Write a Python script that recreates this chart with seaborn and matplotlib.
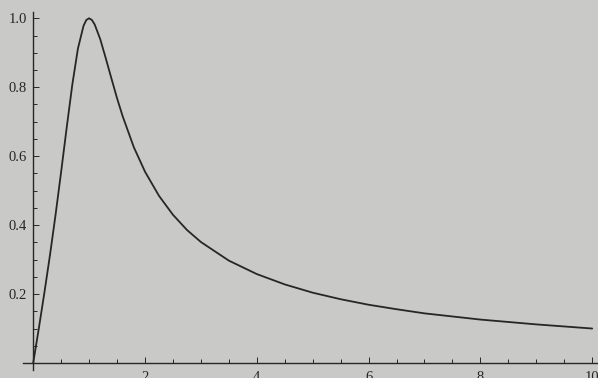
import matplotlib
matplotlib.use("Agg")
import matplotlib.pyplot as plt
import numpy as np
import pandas as pd
import seaborn as sns

# curve (x, value)
x_vals = [0.0, 0.1, 0.2, 0.3, 0.4, 0.5, 0.6, 0.7, 0.8, 0.9, 0.95, 1.0,
          1.05, 1.1, 1.2, 1.3, 1.4, 1.5, 1.6, 1.8, 2.0, 2.25, 2.5, 2.75,
          3.0, 3.5, 4.0, 4.5, 5.0, 5.5, 6.0, 6.5, 7.0, 7.5, 8.0, 8.5,
          9.0, 9.5, 10.0]
y_vals = [0.0, 0.100, 0.204, 0.313, 0.430, 0.555, 0.684, 0.808, 0.912,
          0.978, 0.995, 1.0, 0.995, 0.982, 0.939, 0.883, 0.825, 0.768,
          0.716, 0.626, 0.555, 0.485, 0.430, 0.386, 0.351, 0.297, 0.258,
          0.228, 0.204, 0.185, 0.169, 0.156, 0.144, 0.135, 0.126, 0.119,
          0.112, 0.106, 0.100]

x_ticks = [2, 4, 6, 8, 10]
x_tick_labels = ["2", "4", "6", "8", "10"]
y_ticks = [0.2, 0.4, 0.6, 0.8, 1.0]
y_tick_labels = ["0.2", "0.4", "0.6", "0.8", "1.0"]

paper = "#c9c9c7"
ink = "#262626"

sns.set_theme(style="ticks")
plt.rcParams["font.family"] = ["Liberation Serif", "DejaVu Serif"]

df = pd.DataFrame({"x": x_vals, "y": y_vals})

fig = plt.figure(figsize=(5.98, 3.78), dpi=100)
fig.patch.set_facecolor(paper)
ax = fig.add_axes([0, 0, 1, 1])
ax.set_facecolor(paper)

sns.lineplot(data=df, x="x", y="y", ax=ax, color=ink, linewidth=1.3,
             sort=False)

ax.set_xlim(-0.594, 10.104)
ax.set_ylim(-0.0435, 1.053)

for side in ["top", "right"]:
    ax.spines[side].set_visible(False)
ax.spines["left"].set_position(("data", 0))
ax.spines["bottom"].set_position(("data", 0))
ax.spines["left"].set_bounds(-0.02, 1.017)
ax.spines["bottom"].set_bounds(-0.18, 10.104)
for side in ["left", "bottom"]:
    ax.spines[side].set_color(ink)
    ax.spines[side].set_linewidth(1.0)

ax.set_xticks(x_ticks)
ax.set_xticklabels(x_tick_labels)
ax.set_yticks(y_ticks)
ax.set_yticklabels(y_tick_labels)
ax.set_xticks([t for t in np.arange(0.5, 10.01, 0.5) if t not in x_ticks],
              minor=True)
ax.set_yticks([round(t, 2) for t in np.arange(0.05, 1.001, 0.05)
               if round(t, 2) not in y_ticks], minor=True)

ax.tick_params(which="both", direction="in", colors=ink, width=0.7,
               labelsize=10.5, labelcolor=ink)
ax.tick_params(which="major", length=4.3)
ax.tick_params(which="minor", length=2.9)
ax.tick_params(axis="x", pad=5.5)
ax.tick_params(axis="y", pad=4.3)

ax.set_xlabel("")
ax.set_ylabel("")
ax.grid(False)

fig.savefig("out.png", dpi=100, facecolor=paper)
